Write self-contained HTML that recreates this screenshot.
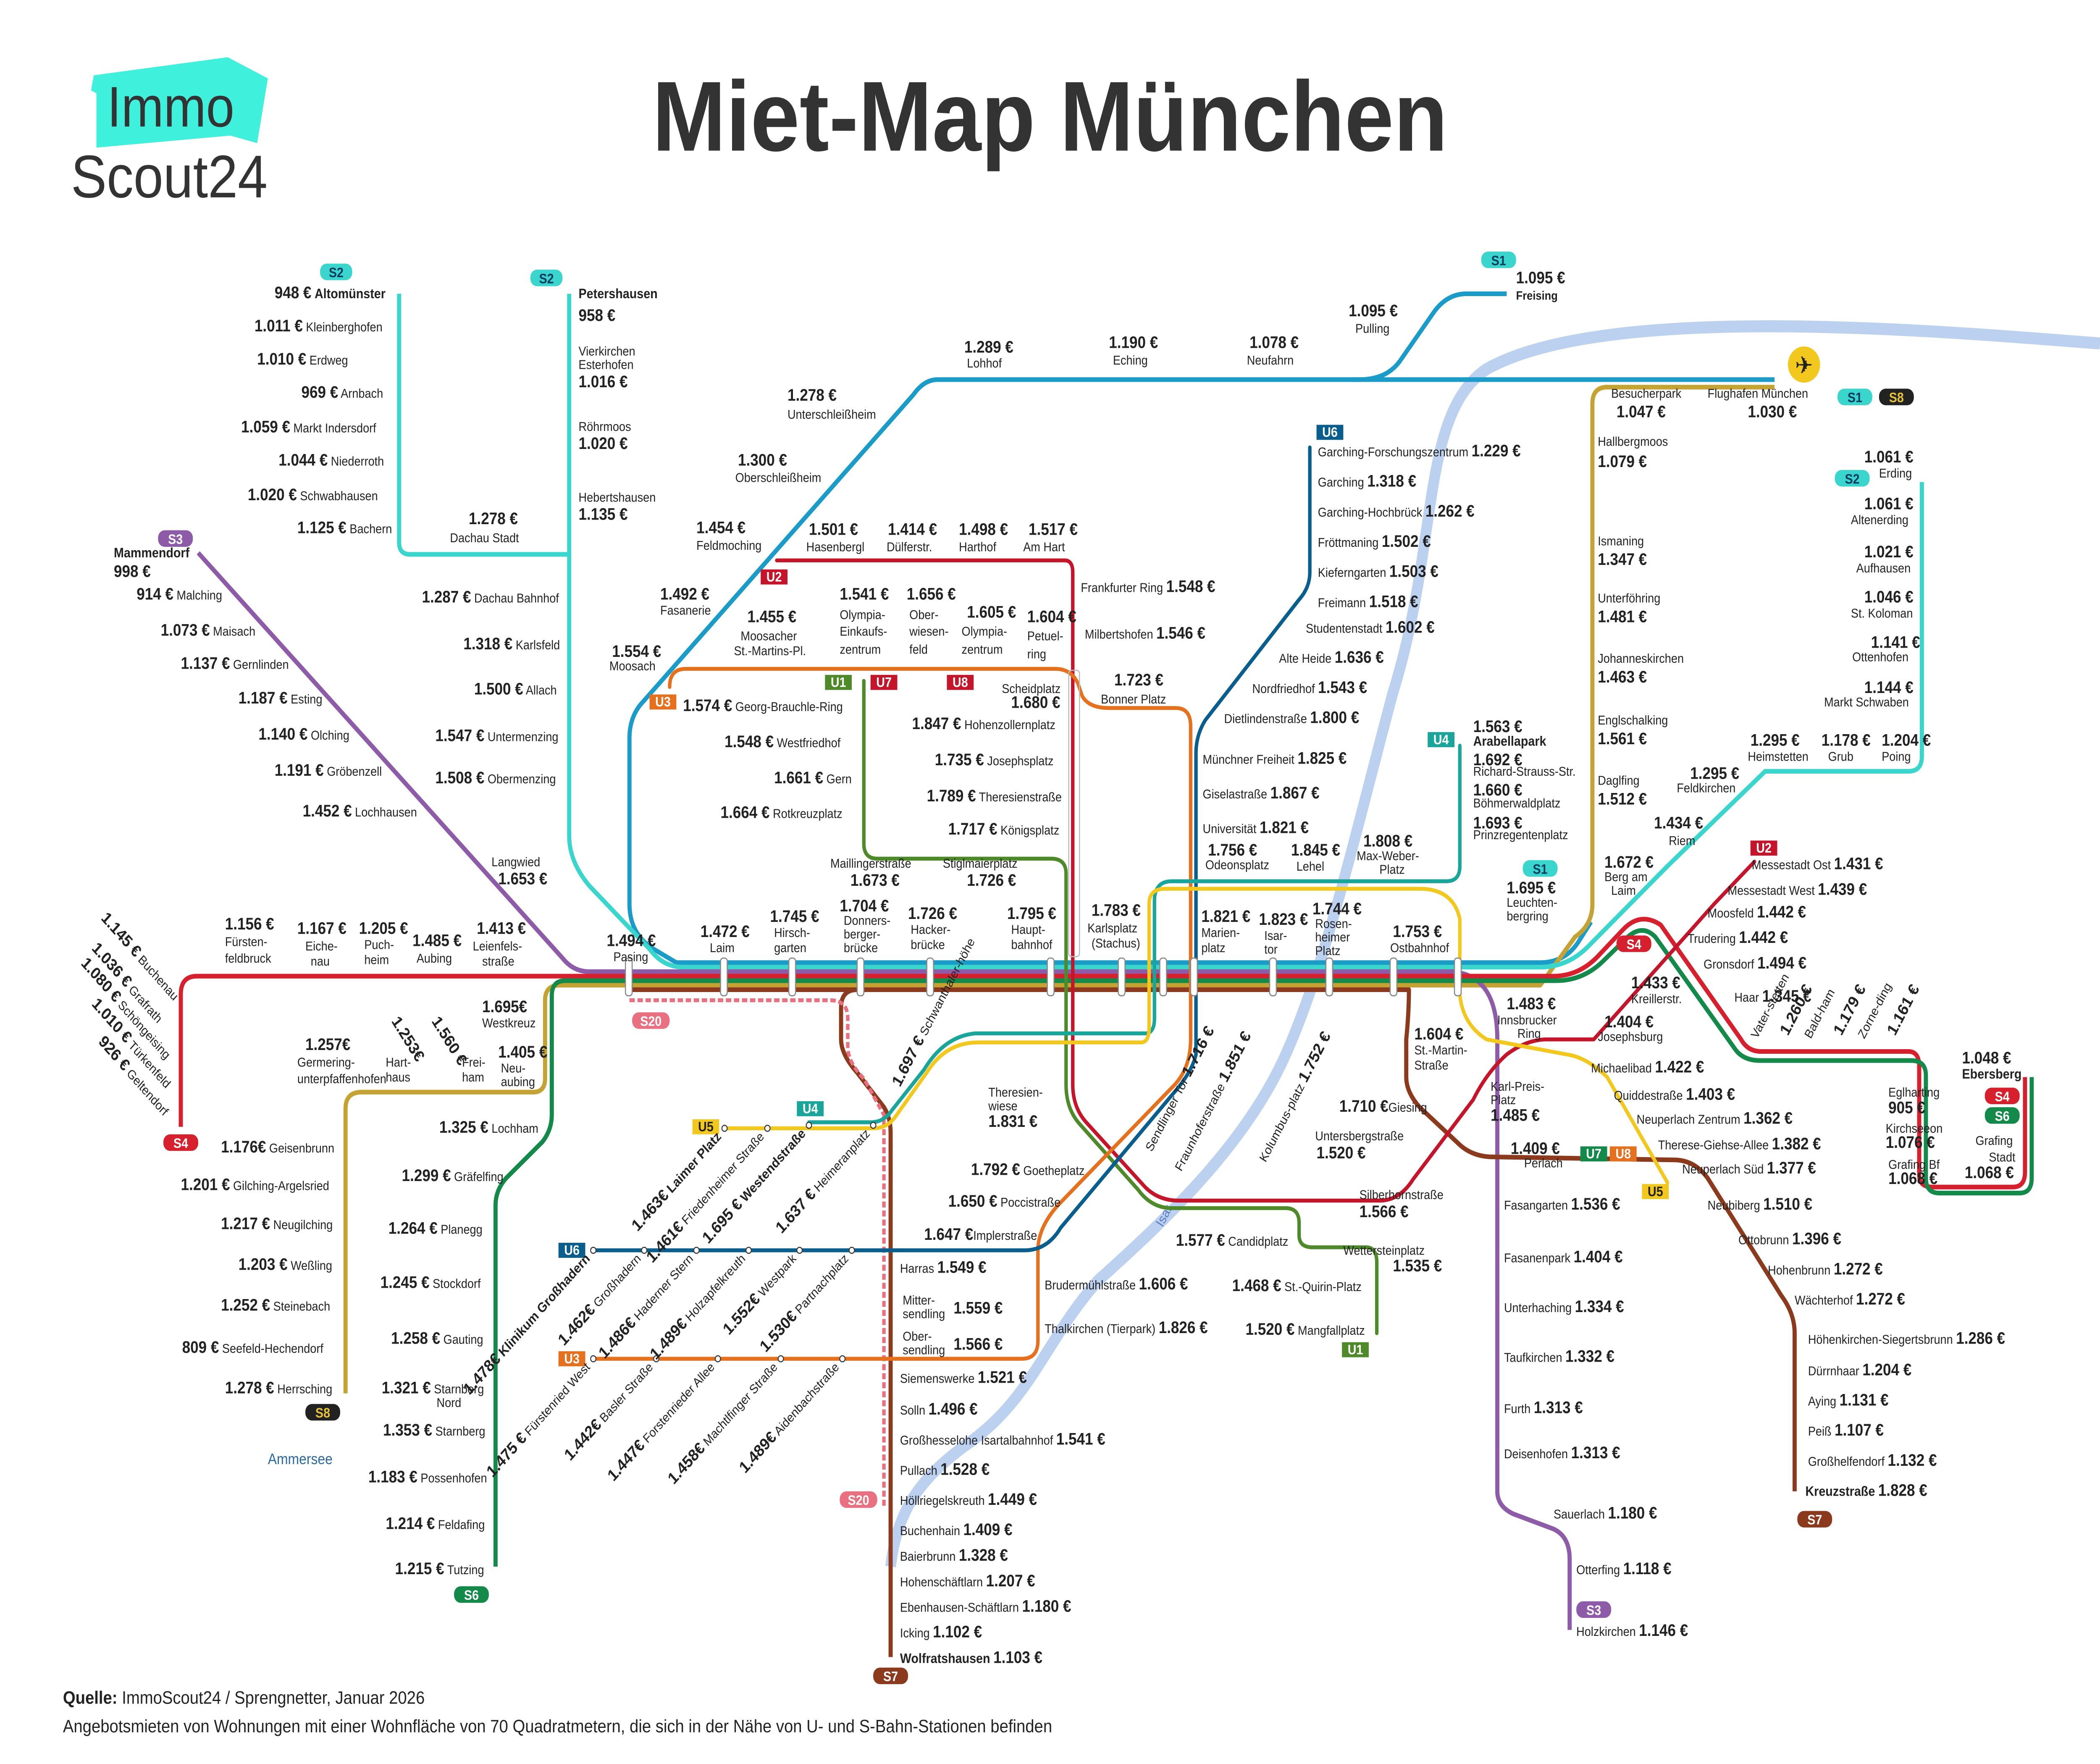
<!DOCTYPE html>
<html><head><meta charset="utf-8">
<style>
html,body{margin:0;padding:0;background:#fff;overflow:hidden;width:100%;height:100%;}
svg{display:block;width:100vw;height:100vh;}
text{font-family:"Liberation Sans",sans-serif;fill:#222;font-size:8.5px;}
.b{font-weight:bold;font-size:11px;}
.bb{font-weight:bold;font-size:9px;}
.ln{fill:none;stroke-width:2.6;stroke-linejoin:round;stroke-linecap:round;}
.sl{fill:none;stroke-width:3.1;stroke-linejoin:round;}
.bdg{font-weight:bold;font-size:9px;fill:#fff;text-anchor:middle;}
.r{text-anchor:end;}
</style></head><body>
<svg viewBox="0 0 1568 1171" preserveAspectRatio="none" xmlns="http://www.w3.org/2000/svg">
<rect width="1568" height="1171" fill="#fff"/>
<polygon points="70,50 170,38 200,52 192,95 172,90 72,98 72,62 68,60" fill="#3ff0dc"/>
<text x="80" y="84" style="font-size:38px;fill:#333">Immo</text>
<text x="53" y="131" style="font-size:40px;fill:#333">Scout24</text>
<text x="784" y="100" text-anchor="middle" style="font-size:66px;font-weight:bold;fill:#333">Miet-Map München</text>

<path d="M1568,228 C1450,220 1200,200 1110,245 C1060,275 1075,360 1040,460 C1010,560 990,640 960,700 C930,760 870,810 820,850 C780,890 770,930 720,960 C690,980 670,1000 665,1040" fill="none" stroke="#bcd0f0" stroke-width="8"/>
<text x="868" y="815" transform="rotate(-60 868 815)" style="fill:#5a7fc0;font-size:9px">Isar</text>

<g class="sl">
<path stroke="#1b9bc8" d="M1125,195 L1095,195 Q1080,195 1070,208 L1045,240 Q1035,252 1015,252 L700,252 Q690,252 682,262 L478,468 Q470,477 470,490 L470,600 Q470,620 488,630 L505,639 L1150,639 Q1168,639 1178,626 L1188,612"/>
<path stroke="#1b9bc8" d="M1325,252 L1010,252"/>
<path stroke="#c4a233" d="M1325,257 L1200,257 Q1189,257 1189,268 L1189,600 Q1189,614 1176,622 L1150,654 L1090,654"/>
<path stroke="#c4a233" d="M258,925 L258,736 Q258,725 270,725 L398,725 Q407,725 407,716 L407,664 Q407,654 418,654 L1090,654"/>
<path stroke="#3ad6cd" d="M298,195 L298,360 Q298,368 306,368 L425,368"/>
<path stroke="#3ad6cd" d="M425,195 L425,555 Q425,572 440,588 L485,630 Q495,642 510,642 L1150,642 Q1170,642 1185,629 L1245,575 L1318,512 L1425,512 Q1435,512 1435,502 L1435,320"/>
<path stroke="#8e5ba8" d="M148,367 L420,636 Q428,645 440,645 L1085,645 Q1118,648 1118,690 L1118,990 Q1118,1000 1130,1005 L1160,1015 Q1172,1020 1172,1035 L1172,1082"/>
<path stroke="#d6202d" d="M135,748 L135,660 Q135,648 147,648 L1160,648 Q1180,648 1195,633 L1212,617 Q1225,605 1240,614 L1300,690 Q1305,698 1315,698 L1425,698 Q1433,698 1433,708 L1433,780 Q1433,788 1443,788 L1503,788 Q1512,788 1512,778 L1512,715"/>
<path stroke="#138a4a" d="M370,1040 L370,800 Q370,790 378,782 L405,758 Q412,750 412,740 L412,661 Q412,651 422,651 L1162,651 Q1182,651 1197,638 L1212,625 Q1225,612 1236,622 L1296,697 Q1302,704 1314,704 L1427,704 Q1438,704 1438,714 L1438,782 Q1438,792 1448,792 L1508,792 Q1517,792 1517,782 L1517,715"/>
<path stroke="#8b3a1e" d="M470,657 L1052,657 Q1052,672 1050,690 L1050,715 Q1050,725 1060,735 L1090,760 Q1100,768 1115,768 L1250,770 Q1265,770 1275,782 L1330,860 Q1340,872 1340,885 L1340,990"/>
<path stroke="#8b3a1e" d="M640,657 Q628,657 628,669 L628,690 Q628,700 640,712 L660,735 Q665,742 665,752 L665,1100"/>
<path stroke="#e87080" stroke-width="2.6" stroke-dasharray="4,2" d="M470,664 L620,664 Q633,664 633,676 L633,695 Q633,705 645,716 L660,740 L660,1000"/>
</g>
<g class="ln">
<path stroke="#c5152b" d="M580,372 L795,372 Q801,372 801,380 L801,720 Q801,735 811,745 L855,788 Q865,797 880,797 L1030,797 Q1045,797 1055,783 L1100,730 Q1110,712 1125,700 Q1140,690 1155,690 L1190,690 L1280,600 L1310,572"/>
<path stroke="#4f8a2a" d="M645,452 L645,560 Q645,570 655,570 L785,570 Q796,570 796,580 L796,720 Q796,736 806,746 L850,790 Q860,802 875,802 L960,802 Q970,802 970,812 L970,820 Q970,828 980,828 L1020,828 Q1028,828 1028,838 L1028,885"/>
<path stroke="#e5711f" d="M500,456 Q500,444 512,444 L788,444 Q800,444 805,454 L808,462 Q813,470 828,470 L878,470 Q889,470 889,482 L889,690 Q889,710 875,722 L790,800 Q775,815 775,830 L775,890 Q775,902 763,902 L443,902"/>
<path stroke="#0a5e8e" d="M978,297 L978,380 Q978,390 970,398 L900,478 Q893,488 893,500 L893,700 Q890,712 875,727 L792,815 Q782,830 765,830 L443,830"/>
<path stroke="#1aa59b" d="M604,745 L650,745 Q660,745 666,737 L690,710 Q705,688 728,686 L855,686 Q862,686 862,676 L862,598 Q862,585 875,585 L1080,585 Q1090,585 1090,575 L1090,495"/>
<path stroke="#f2c81f" d="M541,749 L652,749 Q662,749 668,742 L692,712 Q706,692 730,692 L852,692 Q858,692 858,682 L858,600 Q858,590 870,590 L1060,590 Q1085,590 1090,610 L1090,660 Q1092,680 1110,690 L1170,700 Q1185,702 1200,715 L1245,785"/>
</g>
<g fill="#fff" stroke="#333" stroke-width="0.7">
<circle cx="443" cy="830" r="2"/><circle cx="481" cy="830" r="2"/><circle cx="520" cy="830" r="2"/><circle cx="559" cy="830" r="2"/><circle cx="597" cy="830" r="2"/><circle cx="636" cy="830" r="2"/>
<circle cx="443" cy="902" r="2"/><circle cx="490" cy="902" r="2"/><circle cx="536" cy="902" r="2"/><circle cx="583" cy="902" r="2"/><circle cx="629" cy="902" r="2"/>
<circle cx="541" cy="749" r="2"/><circle cx="573" cy="749" r="2"/><circle cx="604" cy="747" r="2"/><circle cx="652" cy="747" r="2"/>
</g>

<g fill="#fff" stroke="#888" stroke-width="0.8">
<rect x="467" y="636" width="5" height="25" rx="2"/><rect x="538" y="636" width="5" height="25" rx="2"/><rect x="589" y="636" width="5" height="25" rx="2"/><rect x="640" y="636" width="5" height="25" rx="2"/><rect x="692" y="636" width="5" height="25" rx="2"/><rect x="782" y="636" width="5" height="25" rx="2"/><rect x="835" y="636" width="5" height="25" rx="2"/><rect x="866" y="636" width="5" height="25" rx="2"/><rect x="889" y="636" width="5" height="25" rx="2"/><rect x="948" y="636" width="5" height="25" rx="2"/><rect x="990" y="636" width="5" height="25" rx="2"/><rect x="1038" y="636" width="5" height="25" rx="2"/><rect x="1086" y="636" width="5" height="25" rx="2"/>
<rect x="798" y="445" width="8" height="190" rx="2" fill="none" stroke="#bbb"/>
</g>

<g>
<rect x="1106" y="167" width="26" height="11" rx="5" fill="#3ad6cd"/><text class="bdg" x="1119" y="176" style="fill:#0a3a60">S1</text>
<rect x="239" y="175" width="24" height="11" rx="5" fill="#3ad6cd"/><text class="bdg" x="251" y="184" style="fill:#0a3a60">S2</text>
<rect x="396" y="179" width="24" height="11" rx="5" fill="#3ad6cd"/><text class="bdg" x="408" y="188" style="fill:#0a3a60">S2</text>
<rect x="118" y="352" width="26" height="11" rx="5" fill="#8e5ba8"/><text class="bdg" x="131" y="361">S3</text>
<rect x="122" y="753" width="26" height="11" rx="5" fill="#d6202d"/><text class="bdg" x="135" y="762">S4</text>
<rect x="228" y="932" width="26" height="11" rx="5" fill="#222"/><text class="bdg" x="241" y="941" style="fill:#e6c33a">S8</text>
<rect x="339" y="1053" width="26" height="11" rx="5" fill="#138a4a"/><text class="bdg" x="352" y="1062">S6</text>
<rect x="652" y="1107" width="26" height="11" rx="5" fill="#8b3a1e"/><text class="bdg" x="665" y="1116">S7</text>
<rect x="627" y="990" width="28" height="11" rx="5" fill="#e87080"/><text class="bdg" x="641" y="999">S20</text>
<rect x="472" y="672" width="28" height="11" rx="5" fill="#e87080"/><text class="bdg" x="486" y="681">S20</text>
<rect x="1372" y="258" width="26" height="11" rx="5" fill="#3ad6cd"/><text class="bdg" x="1385" y="267" style="fill:#0a3a60">S1</text>
<rect x="1403" y="258" width="26" height="11" rx="5" fill="#222"/><text class="bdg" x="1416" y="267" style="fill:#e6c33a">S8</text>
<rect x="1370" y="312" width="26" height="11" rx="5" fill="#3ad6cd"/><text class="bdg" x="1383" y="321" style="fill:#0a3a60">S2</text>
<rect x="1137" y="571" width="26" height="11" rx="5" fill="#3ad6cd"/><text class="bdg" x="1150" y="580" style="fill:#0a3a60">S1</text>
<rect x="1207" y="621" width="26" height="11" rx="5" fill="#d6202d"/><text class="bdg" x="1220" y="630">S4</text>
<rect x="1482" y="722" width="26" height="11" rx="5" fill="#d6202d"/><text class="bdg" x="1495" y="731">S4</text>
<rect x="1482" y="735" width="26" height="11" rx="5" fill="#138a4a"/><text class="bdg" x="1495" y="744">S6</text>
<rect x="1342" y="1003" width="26" height="11" rx="5" fill="#8b3a1e"/><text class="bdg" x="1355" y="1012">S7</text>
<rect x="1177" y="1063" width="26" height="11" rx="5" fill="#8e5ba8"/><text class="bdg" x="1190" y="1072">S3</text>
<rect x="568" y="378" width="20" height="10" fill="#c5152b"/><text class="bdg" x="578" y="386">U2</text>
<rect x="616" y="448" width="20" height="10" fill="#4f8a2a"/><text class="bdg" x="626" y="456">U1</text>
<rect x="650" y="448" width="20" height="10" fill="#c5152b"/><text class="bdg" x="660" y="456">U7</text>
<rect x="707" y="448" width="20" height="10" fill="#c5152b"/><text class="bdg" x="717" y="456">U8</text>
<rect x="485" y="461" width="20" height="10" fill="#e5711f"/><text class="bdg" x="495" y="469">U3</text>
<rect x="983" y="282" width="20" height="10" fill="#0a5e8e"/><text class="bdg" x="993" y="290">U6</text>
<rect x="1066" y="486" width="20" height="10" fill="#1aa59b"/><text class="bdg" x="1076" y="494">U4</text>
<rect x="595" y="731" width="20" height="10" fill="#1aa59b"/><text class="bdg" x="605" y="739">U4</text>
<rect x="517" y="743" width="20" height="10" fill="#f2c81f"/><text class="bdg" x="527" y="751" style="fill:#222">U5</text>
<rect x="417" y="825" width="20" height="10" fill="#0a5e8e"/><text class="bdg" x="427" y="833">U6</text>
<rect x="417" y="897" width="20" height="10" fill="#e5711f"/><text class="bdg" x="427" y="905">U3</text>
<rect x="1002" y="891" width="20" height="10" fill="#4f8a2a"/><text class="bdg" x="1012" y="899">U1</text>
<rect x="1180" y="761" width="20" height="10" fill="#138a4a"/><text class="bdg" x="1190" y="769">U7</text>
<rect x="1202" y="761" width="20" height="10" fill="#e5711f"/><text class="bdg" x="1212" y="769">U8</text>
<rect x="1226" y="786" width="20" height="10" fill="#f2c81f"/><text class="bdg" x="1236" y="794" style="fill:#222">U5</text>
<circle cx="1347" cy="242" r="12" fill="#f2c81f"/><text x="1347" y="248" text-anchor="middle" style="font-size:16px">✈</text>
</g>

<g>
<text x="205" y="198"><tspan class="b">948 €</tspan> <tspan class="bb">Altomünster</tspan></text>
<text x="190" y="220"><tspan class="b">1.011 €</tspan> Kleinberghofen</text>
<text x="192" y="242"><tspan class="b">1.010 €</tspan> Erdweg</text>
<text x="225" y="264"><tspan class="b">969 €</tspan> Arnbach</text>
<text x="180" y="287"><tspan class="b">1.059 €</tspan> Markt Indersdorf</text>
<text x="208" y="309"><tspan class="b">1.044 €</tspan> Niederroth</text>
<text x="185" y="332"><tspan class="b">1.020 €</tspan> Schwabhausen</text>
<text x="222" y="354"><tspan class="b">1.125 €</tspan> Bachern</text>
<text class="b" x="350" y="348">1.278 €</text><text x="336" y="360">Dachau Stadt</text>
<text class="bb" x="432" y="198">Petershausen</text><text class="b" x="432" y="213">958 €</text>
<text x="432" y="236">Vierkirchen</text><text x="432" y="245">Esterhofen</text><text class="b" x="432" y="257">1.016 €</text>
<text x="432" y="286">Röhrmoos</text><text class="b" x="432" y="298">1.020 €</text>
<text x="432" y="333">Hebertshausen</text><text class="b" x="432" y="345">1.135 €</text>
<text x="315" y="400"><tspan class="b">1.287 €</tspan> Dachau Bahnhof</text>
<text x="346" y="431"><tspan class="b">1.318 €</tspan> Karlsfeld</text>
<text x="354" y="461"><tspan class="b">1.500 €</tspan> Allach</text>
<text x="325" y="492"><tspan class="b">1.547 €</tspan> Untermenzing</text>
<text x="325" y="520"><tspan class="b">1.508 €</tspan> Obermenzing</text>
<text x="367" y="575">Langwied</text><text class="b" x="372" y="587">1.653 €</text>
<text class="bb" x="85" y="370">Mammendorf</text><text class="b" x="85" y="383">998 €</text>
<text x="102" y="398"><tspan class="b">914 €</tspan> Malching</text>
<text x="120" y="422"><tspan class="b">1.073 €</tspan> Maisach</text>
<text x="135" y="444"><tspan class="b">1.137 €</tspan> Gernlinden</text>
<text x="178" y="467"><tspan class="b">1.187 €</tspan> Esting</text>
<text x="193" y="491"><tspan class="b">1.140 €</tspan> Olching</text>
<text x="205" y="515"><tspan class="b">1.191 €</tspan> Gröbenzell</text>
<text x="226" y="542"><tspan class="b">1.452 €</tspan> Lochhausen</text>
<text x="75" y="610" transform="rotate(45 75 610)"><tspan class="b">1.145 €</tspan> Buchenau</text>
<text x="68" y="630" transform="rotate(45 68 630)"><tspan class="b">1.036 €</tspan> Grafrath</text>
<text x="60" y="640" transform="rotate(45 60 640)"><tspan class="b">1.080 €</tspan> Schöngeising</text>
<text x="68" y="667" transform="rotate(45 68 667)"><tspan class="b">1.010 €</tspan> Türkenfeld</text>
<text x="73" y="692" transform="rotate(45 73 692)"><tspan class="b">926 €</tspan> Geltendorf</text>
<text class="b" x="168" y="617">1.156 €</text><text x="168" y="628">Fürsten-</text><text x="168" y="639">feldbruck</text>
<text class="b" x="222" y="620">1.167 €</text><text x="228" y="631">Eiche-</text><text x="232" y="641">nau</text>
<text class="b" x="268" y="620">1.205 €</text><text x="272" y="630">Puch-</text><text x="272" y="640">heim</text>
<text class="b" x="308" y="628">1.485 €</text><text x="311" y="639">Aubing</text>
<text class="b" x="356" y="620">1.413 €</text><text x="353" y="631">Leienfels-</text><text x="360" y="641">straße</text>
<text class="b" x="453" y="628">1.494 €</text><text x="458" y="638">Pasing</text>
<text class="b" x="523" y="622">1.472 €</text><text x="530" y="632">Laim</text>
<text class="b" x="575" y="612">1.745 €</text><text x="578" y="622">Hirsch-</text><text x="578" y="632">garten</text>
<text class="b" x="627" y="605">1.704 €</text><text x="630" y="614">Donners-</text><text x="630" y="623">berger-</text><text x="630" y="632">brücke</text>
<text class="b" x="678" y="610">1.726 €</text><text x="680" y="620">Hacker-</text><text x="680" y="630">brücke</text>
<text class="b" x="752" y="610">1.795 €</text><text x="755" y="620">Haupt-</text><text x="755" y="630">bahnhof</text>
<text class="b" x="815" y="608">1.783 €</text><text x="812" y="619">Karlsplatz</text><text x="815" y="629">(Stachus)</text>
<text class="b" x="897" y="612">1.821 €</text><text x="897" y="622">Marien-</text><text x="897" y="632">platz</text>
<text class="b" x="940" y="614">1.823 €</text><text x="944" y="624">Isar-</text><text x="944" y="633">tor</text>
<text class="b" x="980" y="607">1.744 €</text><text x="982" y="616">Rosen-</text><text x="982" y="625">heimer</text><text x="982" y="634">Platz</text>
<text class="b" x="1040" y="622">1.753 €</text><text x="1038" y="632">Ostbahnhof</text>
<text x="360" y="672"><tspan class="b">1.695€</tspan></text><text x="360" y="682">Westkreuz</text>
<text class="b" x="228" y="697">1.257€</text><text x="222" y="708">Germering-</text><text x="222" y="719">unterpfaffenhofen</text>
<text class="b" x="292" y="678" transform="rotate(55 292 678)">1.253€</text><text x="288" y="708">Hart-</text><text x="288" y="718">haus</text>
<text class="b" x="322" y="678" transform="rotate(55 322 678)">1.560 €</text><text x="345" y="708">Frei-</text><text x="345" y="718">ham</text>
<text class="b" x="372" y="702">1.405 €</text><text x="374" y="712">Neu-</text><text x="374" y="721">aubing</text>
<text x="165" y="765"><tspan class="b">1.176€</tspan> Geisenbrunn</text>
<text x="135" y="790"><tspan class="b">1.201 €</tspan> Gilching-Argelsried</text>
<text x="165" y="816"><tspan class="b">1.217 €</tspan> Neugilching</text>
<text x="178" y="843"><tspan class="b">1.203 €</tspan> Weßling</text>
<text x="165" y="870"><tspan class="b">1.252 €</tspan> Steinebach</text>
<text x="136" y="898"><tspan class="b">809 €</tspan> Seefeld-Hechendorf</text>
<text x="168" y="925"><tspan class="b">1.278 €</tspan> Herrsching</text>
<text x="200" y="972" style="fill:#2a6aa0;font-size:10px">Ammersee</text>
<text x="328" y="752"><tspan class="b">1.325 €</tspan> Lochham</text>
<text x="300" y="784"><tspan class="b">1.299 €</tspan> Gräfelfing</text>
<text x="290" y="819"><tspan class="b">1.264 €</tspan> Planegg</text>
<text x="284" y="855"><tspan class="b">1.245 €</tspan> Stockdorf</text>
<text x="292" y="892"><tspan class="b">1.258 €</tspan> Gauting</text>
<text x="285" y="925"><tspan class="b">1.321 €</tspan> Starnberg</text><text x="326" y="934">Nord</text>
<text x="286" y="953"><tspan class="b">1.353 €</tspan> Starnberg</text>
<text x="275" y="984"><tspan class="b">1.183 €</tspan> Possenhofen</text>
<text x="288" y="1015"><tspan class="b">1.214 €</tspan> Feldafing</text>
<text x="295" y="1045"><tspan class="b">1.215 €</tspan> Tutzing</text>
<text x="672" y="845">Harras <tspan class="b">1.549 €</tspan></text>
<text x="674" y="866">Mitter-</text><text x="674" y="875">sendling</text><text class="b" x="712" y="872">1.559 €</text>
<text x="674" y="890">Ober-</text><text x="674" y="899">sendling</text><text class="b" x="712" y="896">1.566 €</text>
<text x="672" y="918">Siemenswerke <tspan class="b">1.521 €</tspan></text>
<text x="672" y="939">Solln <tspan class="b">1.496 €</tspan></text>
<text x="672" y="959">Großhesselohe Isartalbahnhof <tspan class="b">1.541 €</tspan></text>
<text x="672" y="979">Pullach <tspan class="b">1.528 €</tspan></text>
<text x="672" y="999">Höllriegelskreuth <tspan class="b">1.449 €</tspan></text>
<text x="672" y="1019">Buchenhain <tspan class="b">1.409 €</tspan></text>
<text x="672" y="1036">Baierbrunn <tspan class="b">1.328 €</tspan></text>
<text x="672" y="1053">Hohenschäftlarn <tspan class="b">1.207 €</tspan></text>
<text x="672" y="1070">Ebenhausen-Schäftlarn <tspan class="b">1.180 €</tspan></text>
<text x="672" y="1087">Icking <tspan class="b">1.102 €</tspan></text>
<text x="672" y="1104"><tspan class="bb">Wolfratshausen</tspan> <tspan class="b">1.103 €</tspan></text>
<text class="b" x="520" y="354">1.454 €</text><text x="520" y="365">Feldmoching</text>
<text class="b" x="604" y="355">1.501 €</text><text x="602" y="366">Hasenbergl</text>
<text class="b" x="663" y="355">1.414 €</text><text x="662" y="366">Dülferstr.</text>
<text class="b" x="716" y="355">1.498 €</text><text x="716" y="366">Harthof</text>
<text class="b" x="768" y="355">1.517 €</text><text x="764" y="366">Am Hart</text>
<text x="807" y="393">Frankfurter Ring <tspan class="b">1.548 €</tspan></text>
<text x="810" y="424">Milbertshofen <tspan class="b">1.546 €</tspan></text>
<text x="748" y="460">Scheidplatz</text><text class="b" x="755" y="470">1.680 €</text>
<text class="b" x="627" y="398">1.541 €</text><text x="627" y="411">Olympia-</text><text x="627" y="422">Einkaufs-</text><text x="627" y="434">zentrum</text>
<text class="b" x="677" y="398">1.656 €</text><text x="679" y="411">Ober-</text><text x="679" y="422">wiesen-</text><text x="679" y="434">feld</text>
<text class="b" x="722" y="410">1.605 €</text><text x="718" y="422">Olympia-</text><text x="718" y="434">zentrum</text>
<text class="b" x="767" y="413">1.604 €</text><text x="767" y="425">Petuel-</text><text x="767" y="437">ring</text>
<text class="b" x="558" y="413">1.455 €</text><text x="553" y="425">Moosacher</text><text x="548" y="435">St.-Martins-Pl.</text>
<text class="b" x="493" y="398">1.492 €</text><text x="493" y="408">Fasanerie</text>
<text class="b" x="457" y="436">1.554 €</text><text x="455" y="445">Moosach</text>
<text x="510" y="472"><tspan class="b">1.574 €</tspan> Georg-Brauchle-Ring</text>
<text x="541" y="496"><tspan class="b">1.548 €</tspan> Westfriedhof</text>
<text x="578" y="520"><tspan class="b">1.661 €</tspan> Gern</text>
<text x="538" y="543"><tspan class="b">1.664 €</tspan> Rotkreuzplatz</text>
<text x="620" y="576">Maillingerstraße</text><text class="b" x="635" y="588">1.673 €</text>
<text x="704" y="576">Stiglmaierplatz</text><text class="b" x="722" y="588">1.726 €</text>
<text x="681" y="484"><tspan class="b">1.847 €</tspan> Hohenzollernplatz</text>
<text x="698" y="508"><tspan class="b">1.735 €</tspan> Josephsplatz</text>
<text x="692" y="532"><tspan class="b">1.789 €</tspan> Theresienstraße</text>
<text x="708" y="554"><tspan class="b">1.717 €</tspan> Königsplatz</text>
<text class="b" x="832" y="455">1.723 €</text><text x="822" y="467">Bonner Platz</text>
<text x="898" y="507">Münchner Freiheit <tspan class="b">1.825 €</tspan></text>
<text x="898" y="530">Giselastraße <tspan class="b">1.867 €</tspan></text>
<text x="898" y="553">Universität <tspan class="b">1.821 €</tspan></text>
<text class="b" x="902" y="568">1.756 €</text><text x="900" y="577">Odeonsplatz</text>
<text class="b" x="964" y="568">1.845 €</text><text x="968" y="578">Lehel</text>
<text class="b" x="1018" y="562">1.808 €</text><text x="1013" y="571">Max-Weber-</text><text x="1030" y="580">Platz</text>
<text x="984" y="303">Garching-Forschungszentrum <tspan class="b">1.229 €</tspan></text>
<text x="984" y="323">Garching <tspan class="b">1.318 €</tspan></text>
<text x="984" y="343">Garching-Hochbrück <tspan class="b">1.262 €</tspan></text>
<text x="984" y="363">Fröttmaning <tspan class="b">1.502 €</tspan></text>
<text x="984" y="383">Kieferngarten <tspan class="b">1.503 €</tspan></text>
<text x="984" y="403">Freimann <tspan class="b">1.518 €</tspan></text>
<text x="975" y="420">Studentenstadt <tspan class="b">1.602 €</tspan></text>
<text x="955" y="440">Alte Heide <tspan class="b">1.636 €</tspan></text>
<text x="935" y="460">Nordfriedhof <tspan class="b">1.543 €</tspan></text>
<text x="914" y="480">Dietlindenstraße <tspan class="b">1.800 €</tspan></text>
<text class="b" x="1100" y="486">1.563 €</text><text class="bb" x="1100" y="495">Arabellapark</text>
<text class="b" x="1100" y="508">1.692 €</text><text x="1100" y="515">Richard-Strauss-Str.</text>
<text class="b" x="1100" y="528">1.660 €</text><text x="1100" y="536">Böhmerwaldplatz</text>
<text class="b" x="1100" y="550">1.693 €</text><text x="1100" y="557">Prinzregentenplatz</text>
<text class="b" x="1132" y="188">1.095 €</text><text class="bb" x="1132" y="199" style="font-size:8px">Freising</text>
<text class="b" x="1007" y="210">1.095 €</text><text x="1012" y="221">Pulling</text>
<text class="b" x="720" y="234">1.289 €</text><text x="722" y="244">Lohhof</text>
<text class="b" x="828" y="231">1.190 €</text><text x="831" y="242">Eching</text>
<text class="b" x="933" y="231">1.078 €</text><text x="931" y="242">Neufahrn</text>
<text class="b" x="588" y="266">1.278 €</text><text x="588" y="278">Unterschleißheim</text>
<text class="b" x="551" y="309">1.300 €</text><text x="549" y="320">Oberschleißheim</text>
<text x="1203" y="264">Besucherpark</text><text class="b" x="1207" y="277">1.047 €</text>
<text x="1275" y="264">Flughafen München</text><text class="b" x="1305" y="277">1.030 €</text>
<text x="1193" y="296">Hallbergmoos</text><text class="b" x="1193" y="310">1.079 €</text>
<text x="1193" y="362">Ismaning</text><text class="b" x="1193" y="375">1.347 €</text>
<text x="1193" y="400">Unterföhring</text><text class="b" x="1193" y="413">1.481 €</text>
<text x="1193" y="440">Johanneskirchen</text><text class="b" x="1193" y="453">1.463 €</text>
<text x="1193" y="481">Englschalking</text><text class="b" x="1193" y="494">1.561 €</text>
<text x="1193" y="521">Daglfing</text><text class="b" x="1193" y="534">1.512 €</text>
<text class="b" x="1125" y="593">1.695 €</text><text x="1125" y="602">Leuchten-</text><text x="1125" y="611">bergring</text>
<text class="b" x="1198" y="576">1.672 €</text><text x="1198" y="585">Berg am</text><text x="1203" y="594">Laim</text>
<text class="b" x="1392" y="307">1.061 €</text><text x="1403" y="317">Erding</text>
<text class="b" x="1392" y="338">1.061 €</text><text x="1382" y="348">Altenerding</text>
<text class="b" x="1392" y="370">1.021 €</text><text x="1386" y="380">Aufhausen</text>
<text class="b" x="1392" y="400">1.046 €</text><text x="1382" y="410">St. Koloman</text>
<text class="b" x="1397" y="430">1.141 €</text><text x="1383" y="439">Ottenhofen</text>
<text class="b" x="1392" y="460">1.144 €</text><text x="1362" y="469">Markt Schwaben</text>
<text class="b" x="1405" y="495">1.204 €</text><text x="1405" y="505">Poing</text>
<text class="b" x="1360" y="495">1.178 €</text><text x="1365" y="505">Grub</text>
<text class="b" x="1307" y="495">1.295 €</text><text x="1305" y="505">Heimstetten</text>
<text class="b" x="1262" y="517">1.295 €</text><text x="1252" y="526">Feldkirchen</text>
<text class="b" x="1235" y="550">1.434 €</text><text x="1246" y="561">Riem</text>
<rect x="1307" y="558" width="20" height="10" fill="#c5152b"/><text class="bdg" x="1317" y="566">U2</text>
<text x="1308" y="577">Messestadt Ost <tspan class="b">1.431 €</tspan></text>
<text x="1290" y="594">Messestadt West <tspan class="b">1.439 €</tspan></text>
<text x="1275" y="609">Moosfeld <tspan class="b">1.442 €</tspan></text>
<text x="1260" y="626">Trudering <tspan class="b">1.442 €</tspan></text>
<text x="1272" y="643">Gronsdorf <tspan class="b">1.494 €</tspan></text>
<text x="1295" y="665">Haar <tspan class="b">1.345 €</tspan></text>
<text class="b" x="1335" y="688" transform="rotate(-60 1335 688)">1.260 €</text><text x="1312" y="690" transform="rotate(-60 1312 690)">Vater-stetten</text>
<text class="b" x="1375" y="688" transform="rotate(-60 1375 688)">1.179 €</text><text x="1352" y="690" transform="rotate(-60 1352 690)">Bald-ham</text>
<text class="b" x="1415" y="688" transform="rotate(-60 1415 688)">1.161 €</text><text x="1392" y="690" transform="rotate(-60 1392 690)">Zorne-ding</text>
<text class="b" x="1465" y="706">1.048 €</text><text class="bb" x="1465" y="716">Ebersberg</text>
<text x="1475" y="760">Grafing</text><text x="1485" y="771">Stadt</text><text class="b" x="1467" y="782">1.068 €</text>
<text x="1410" y="728">Eglharting</text><text class="b" x="1410" y="739">905 €</text>
<text x="1408" y="752">Kirchseeon</text><text class="b" x="1408" y="762">1.076 €</text>
<text x="1410" y="776">Grafing Bf</text><text class="b" x="1410" y="786">1.068 €</text>
<text class="b" x="1218" y="656">1.433 €</text><text x="1218" y="666">Kreillerstr.</text>
<text class="b" x="1198" y="682">1.404 €</text><text x="1193" y="691">Josephsburg</text>
<text class="b" x="1125" y="670">1.483 €</text><text x="1118" y="680">Innsbrucker</text><text x="1133" y="689">Ring</text>
<text class="b" x="1056" y="690">1.604 €</text><text x="1056" y="700">St.-Martin-</text><text x="1056" y="710">Straße</text>
<text x="1113" y="724">Karl-Preis-</text><text x="1113" y="733">Platz</text><text class="b" x="1113" y="744">1.485 €</text>
<text x="1188" y="712">Michaelibad <tspan class="b">1.422 €</tspan></text>
<text x="1205" y="730">Quiddestraße <tspan class="b">1.403 €</tspan></text>
<text x="1222" y="746">Neuperlach Zentrum <tspan class="b">1.362 €</tspan></text>
<text x="1238" y="763">Therese-Giehse-Allee <tspan class="b">1.382 €</tspan></text>
<text x="1256" y="779">Neuperlach Süd <tspan class="b">1.377 €</tspan></text>
<text class="b" x="1128" y="766">1.409 €</text><text x="1138" y="775">Perlach</text>
<text x="1275" y="803">Neubiberg <tspan class="b">1.510 €</tspan></text>
<text x="1298" y="826">Ottobrunn <tspan class="b">1.396 €</tspan></text>
<text x="1320" y="846">Hohenbrunn <tspan class="b">1.272 €</tspan></text>
<text x="1340" y="866">Wächterhof <tspan class="b">1.272 €</tspan></text>
<text x="1350" y="892">Höhenkirchen-Siegertsbrunn <tspan class="b">1.286 €</tspan></text>
<text x="1350" y="913">Dürrnhaar <tspan class="b">1.204 €</tspan></text>
<text x="1350" y="933">Aying <tspan class="b">1.131 €</tspan></text>
<text x="1350" y="953">Peiß <tspan class="b">1.107 €</tspan></text>
<text x="1350" y="973">Großhelfendorf <tspan class="b">1.132 €</tspan></text>
<text x="1348" y="993"><tspan class="bb">Kreuzstraße</tspan> <tspan class="b">1.828 €</tspan></text>
<text x="1123" y="803">Fasangarten <tspan class="b">1.536 €</tspan></text>
<text x="1123" y="838">Fasanenpark <tspan class="b">1.404 €</tspan></text>
<text x="1123" y="871">Unterhaching <tspan class="b">1.334 €</tspan></text>
<text x="1123" y="904">Taufkirchen <tspan class="b">1.332 €</tspan></text>
<text x="1123" y="938">Furth <tspan class="b">1.313 €</tspan></text>
<text x="1123" y="968">Deisenhofen <tspan class="b">1.313 €</tspan></text>
<text x="1160" y="1008">Sauerlach <tspan class="b">1.180 €</tspan></text>
<text x="1177" y="1045">Otterfing <tspan class="b">1.118 €</tspan></text>
<text x="1177" y="1086">Holzkirchen <tspan class="b">1.146 €</tspan></text>
<text x="1000" y="738"><tspan class="b">1.710 €</tspan>Giesing</text>
<text x="982" y="757">Untersbergstraße</text><text class="b" x="983" y="769">1.520 €</text>
<text x="1015" y="796">Silberhornstraße</text><text class="b" x="1015" y="808">1.566 €</text>
<text x="878" y="827"><tspan class="b">1.577 €</tspan> Candidplatz</text>
<text x="1003" y="833">Wettersteinplatz</text><text class="b" x="1040" y="844">1.535 €</text>
<text x="920" y="857"><tspan class="b">1.468 €</tspan> St.-Quirin-Platz</text>
<text x="930" y="886"><tspan class="b">1.520 €</tspan> Mangfallplatz</text>
<text x="860" y="765" transform="rotate(-60 860 765)">Sendlinger Tor <tspan class="b">1.716 €</tspan></text>
<text x="882" y="778" transform="rotate(-60 882 778)">Fraunhoferstraße <tspan class="b">1.851 €</tspan></text>
<text x="945" y="772" transform="rotate(-60 945 772)">Kolumbus-platz <tspan class="b">1.752 €</tspan></text>
<text x="725" y="780"><tspan class="b">1.792 €</tspan> Goetheplatz</text>
<text x="708" y="801"><tspan class="b">1.650 €</tspan> Poccistraße</text>
<text x="690" y="823"><tspan class="b">1.647 €</tspan>Implerstraße</text>
<text x="780" y="856">Brudermühlstraße <tspan class="b">1.606 €</tspan></text>
<text x="780" y="885">Thalkirchen (Tierpark) <tspan class="b">1.826 €</tspan></text>
<text x="738" y="728">Theresien-</text><text x="738" y="737">wiese</text><text class="b" x="738" y="748">1.831 €</text>
<text x="672" y="722" transform="rotate(-60 672 722)"><tspan class="b">1.697 €</tspan> Schwanthaler-höhe</text>
<!-- U5 south labels -->
<text class="r" x="539" y="755" transform="rotate(-45 539 755)"><tspan class="b">1.463€</tspan> <tspan class="bb">Laimer Platz</tspan></text>
<text class="r" x="571" y="755" transform="rotate(-45 571 755)"><tspan class="b">1.461€</tspan> Friedenheimer Straße</text>
<text class="r" x="602" y="753" transform="rotate(-45 602 753)"><tspan class="b">1.695 €</tspan> <tspan class="bb">Westendstraße</tspan></text>
<text class="r" x="650" y="753" transform="rotate(-45 650 753)"><tspan class="b">1.637 €</tspan> Heimeranplatz</text>
<!-- U6 labels -->
<text class="r" x="441" y="836" transform="rotate(-45 441 836)"><tspan class="b">1.478€</tspan> <tspan class="bb">Klinikum Großhadern</tspan></text>
<text class="r" x="479" y="836" transform="rotate(-45 479 836)"><tspan class="b">1.462€</tspan> Großhadern</text>
<text class="r" x="518" y="836" transform="rotate(-45 518 836)"><tspan class="b">1.486€</tspan> Haderner Stern</text>
<text class="r" x="557" y="836" transform="rotate(-45 557 836)"><tspan class="b">1.489€</tspan> Holzapfelkreuth</text>
<text class="r" x="595" y="836" transform="rotate(-45 595 836)"><tspan class="b">1.552€</tspan> Westpark</text>
<text class="r" x="634" y="836" transform="rotate(-45 634 836)"><tspan class="b">1.530€</tspan> Partnachplatz</text>
<!-- U3 labels -->
<text class="r" x="441" y="908" transform="rotate(-45 441 908)"><tspan class="b">1.475 €</tspan> Fürstenried West</text>
<text class="r" x="488" y="908" transform="rotate(-45 488 908)"><tspan class="b">1.442€</tspan> Basler Straße</text>
<text class="r" x="534" y="908" transform="rotate(-45 534 908)"><tspan class="b">1.447€</tspan> Forstenrieder Allee</text>
<text class="r" x="581" y="908" transform="rotate(-45 581 908)"><tspan class="b">1.458€</tspan> Machtlfinger Straße</text>
<text class="r" x="627" y="908" transform="rotate(-45 627 908)"><tspan class="b">1.489€</tspan> Aidenbachstraße</text>
<text x="47" y="1131" style="font-size:12px"><tspan style="font-weight:bold">Quelle:</tspan> ImmoScout24 / Sprengnetter, Januar 2026</text>
<text x="47" y="1150" style="font-size:12px">Angebotsmieten von Wohnungen mit einer Wohnfläche von 70 Quadratmetern, die sich in der Nähe von U- und S-Bahn-Stationen befinden</text>
</g>
</svg>
</body></html>
